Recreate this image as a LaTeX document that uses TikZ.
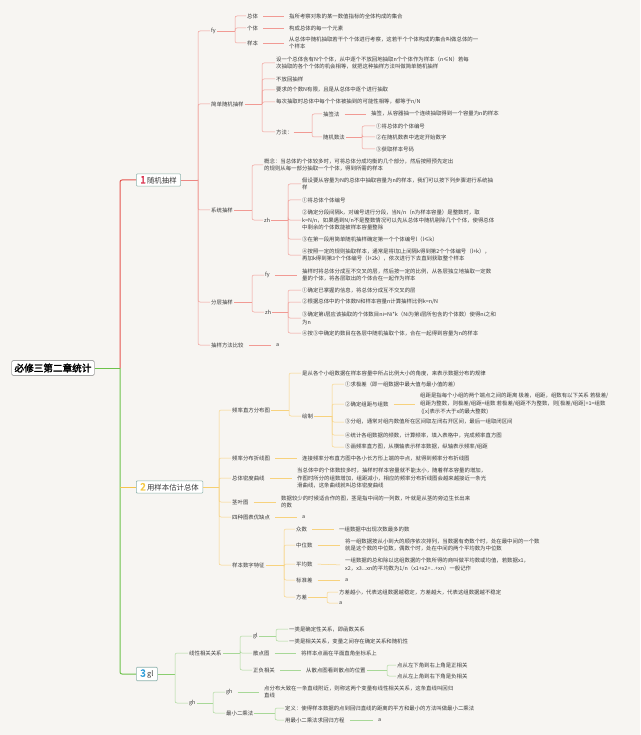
\documentclass[tikz,border=0pt]{standalone}
\usepackage{fontspec}
\setmainfont{Noto Sans CJK SC}[AutoFakeBold=2.5]
\usetikzlibrary{positioning}

\definecolor{bgc}{HTML}{F7F5F2}
\definecolor{txtc}{HTML}{3A3A3A}
\definecolor{redt}{HTML}{E5544E}
\definecolor{redl}{HTML}{F19A94}
\definecolor{yelt}{HTML}{F4C44E}
\definecolor{yell}{HTML}{F7D27E}
\definecolor{grnt}{HTML}{6DC24B}
\definecolor{grnl}{HTML}{A8D898}
\definecolor{hubc}{HTML}{8DB2AC}
\definecolor{numr}{HTML}{D8203F}
\definecolor{numy}{HTML}{F5C842}
\definecolor{numb}{HTML}{2B9BD8}

\tikzset{
  txt/.style={anchor=west, inner sep=1pt, align=left, text=txtc,
    font=\fontsize{5.4}{7.8}\selectfont},
  hub/.style={draw=hubc, fill=white, rounded corners=1pt, inner xsep=4pt, inner ysep=2.2pt,
    line width=0.6pt, text=txtc, font=\fontsize{7.4}{8.5}\selectfont},
  rootbox/.style={draw=gray!70, fill=white, rounded corners=1.5pt, inner sep=3pt,
    line width=0.6pt, font=\fontsize{9.6}{11}\selectfont\bfseries},
  rl/.style={draw=redl, line width=0.5pt, rounded corners=2pt},
  yl/.style={draw=yell, line width=0.5pt, rounded corners=2pt},
  gl/.style={draw=grnl, line width=0.5pt, rounded corners=2pt},
  leaf/.style={shorten <=4pt, shorten >=4pt}
}

\begin{document}
\begin{tikzpicture}[x=1pt,y=-1pt]
  % background
  \fill[bgc] (0,0) rectangle (640,735);
  \useasboundingbox (0,0) rectangle (640,735);

  % root and main topics
  \node[rootbox] (root) at (53,368) {必修三第二章统计};
  \node[hub, anchor=west] (n1) at (136,180) {\textcolor{numr}{\fontsize{10}{9}\selectfont\bfseries 1}\,随机抽样};
  \node[hub, anchor=west] (n2) at (136,487) {\textcolor{numy}{\fontsize{10}{9}\selectfont\bfseries 2}\,用样本估计总体};
  \node[hub, anchor=west] (n3) at (136,674) {\textcolor{numb}{\fontsize{10}{9}\selectfont\bfseries 3}\,gl};

  \coordinate (trunk) at (120,368);
  \draw[grnt, line width=1pt] (root.east) -- (trunk);
  \draw[grnt, line width=1pt, rounded corners=2pt] (trunk) |- (n3.west);
  \draw[redt, line width=1pt, rounded corners=2pt] (trunk) |- (n1.west);
  \draw[yelt, line width=1pt] (n2.west -| trunk) -- (n2.west);

  % ---------- 1 随机抽样 ----------
  \node[txt] (fy) at (210,31) {fy};
  \node[txt] (jd) at (210,104) {简单随机抽样};
  \node[txt] (xt) at (210,210) {系统抽样};
  \node[txt] (fc) at (210,302) {分层抽样};
  \node[txt] (bj) at (210,345) {抽样方法比较};
  \coordinate (b1) at (198,180);
  \draw[redt!70, line width=0.6pt] (n1.east) -- (b1);
  \foreach \c in {fy,jd,xt,fc,bj}
    \draw[rl] (b1) |- (\c.west);

  % fy
  \node[txt] (zt) at (246,16) {总体};
  \node[txt] (gt) at (246,28) {个体};
  \node[txt] (yb) at (246,43) {样本};
  \node[txt] (ztd) at (288,16) {指所考察对象的某一数值指标的全体构成的集合};
  \node[txt] (gtd) at (288,28) {构成总体的每一个元素};
  \node[txt] (ybd) at (288,43) {从总体中随机抽取若干个个体进行考察，这若干个个体构成的集合叫做总体的一\\个样本};
  \coordinate (b-fy) at (235,31);
  \draw[rl] (fy.east) -- (b-fy);
  \foreach \c in {zt,gt,yb}
    \draw[rl] (b-fy) |- (\c.west);
  \draw[rl, leaf] (zt.east) -- (ztd.west);
  \draw[rl, leaf] (gt.east) -- (gtd.west);
  \draw[rl, leaf] (yb.east) -- (ybd.west);

  % 简单随机抽样
  \node[txt] (jd1) at (275,63) {设一个总体含有N个个体，从中逐个不放回地抽取n个个体作为样本（n≤N）若每\\次抽取的各个个体的机会相等，就把这种抽样方法叫做简单随机抽样};
  \node[txt] (jd2) at (275,79) {不放回抽样};
  \node[txt] (jd3) at (275,90) {要求的个数N有限，且是从总体中逐个进行抽取};
  \node[txt] (jd4) at (275,102) {每次抽取时总体中每个个体被抽到的可能性相等，都等于n/N};
  \node[txt] (ff) at (275,132) {方法：};
  \coordinate (b-jd) at (262,104);
  \draw[rl] (jd.east) -- (b-jd);
  \foreach \c in {jd1,jd2,jd3,jd4,ff}
    \draw[rl] (b-jd) |- (\c.west);

  \node[txt] (cq) at (322,114) {抽签法};
  \node[txt] (sj) at (322,137) {随机数法};
  \node[txt] (cqd) at (370,114) {抽签，从容器抽一个连续抽取得到一个容量为n的样本};
  \coordinate (b-ff) at (312,132);
  \draw[rl] (ff.east) -- (b-ff);
  \foreach \c in {cq,sj}
    \draw[rl] (b-ff) |- (\c.west);
  \draw[rl, leaf] (cq.east) -- (cqd.west);

  \node[txt] (sj1) at (375,126) {①将总体的个体编号};
  \node[txt] (sj2) at (375,137) {②在随机数表中选定开始数字};
  \node[txt] (sj3) at (375,149) {③获取样本号码};
  \coordinate (b-sj) at (362,137);
  \draw[rl] (sj.east) -- (b-sj);
  \foreach \c in {sj1,sj2,sj3}
    \draw[rl] (b-sj) |- (\c.west);

  % 系统抽样
  \node[txt] (xt1) at (263,165) {概念：当总体的个体较多时，可将总体分成均衡的几个部分，然后按照预先定出\\的规则从每一部分抽取一个个体，得到所需的样本};
  \node[txt] (xzh) at (263,220) {zh};
  \coordinate (b-xt) at (252,210);
  \draw[rl] (xt.east) -- (b-xt);
  \foreach \c in {xt1,xzh}
    \draw[rl] (b-xt) |- (\c.west);

  \node[txt] (xa) at (301,184) {假设要从容量为N的总体中抽取容量为n的样本，我们可以按下列步骤进行系统抽\\样};
  \node[txt] (xb) at (301,200) {①将总体个体编号};
  \node[txt] (xc) at (301,220) {②确定分段间隔k，对编号进行分段，当N/n（n为样本容量）是整数时，取\\k=N/n，如果遇到N/n不是整数情况可以先从总体中随机剔除几个个体，使得总体\\中剩余的个体数能被样本容量整除};
  \node[txt] (xd) at (301,239) {③在第一段用简单随机抽样确定第一个个体编号l（l≤k）};
  \node[txt] (xe) at (301,255) {④按照一定的规则抽取样本，通常是将l加上间隔k得到第2个个体编号（l+k），\\再加k得到第3个个体编号（l+2k），依次进行下去直到获取整个样本};
  \coordinate (b-xzh) at (288,220);
  \draw[rl] (xzh.east) -- (b-xzh);
  \foreach \c in {xa,xb,xc,xd,xe}
    \draw[rl] (b-xzh) |- (\c.west);

  % 分层抽样
  \node[txt] (ffy) at (264,275) {fy};
  \node[txt] (fzh) at (264,312) {zh};
  \node[txt] (ffyd) at (301,275) {抽样时将总体分成互不交叉的层，然后按一定的比例，从各层独立地抽取一定数\\量的个体，将各层取出的个体合在一起作为样本};
  \coordinate (b-fc) at (252,302);
  \draw[rl] (fc.east) -- (b-fc);
  \foreach \c in {ffy,fzh}
    \draw[rl] (b-fc) |- (\c.west);
  \draw[rl, leaf] (ffy.east) -- (ffyd.west);

  \node[txt] (fa) at (301,290) {①确定已掌握的信息，将总体分成互不交叉的层};
  \node[txt] (fb) at (301,302) {②根据总体中的个体数N和样本容量n计算抽样比例k=n/N};
  \node[txt] (fcc) at (301,318) {③确定第i层应该抽取的个体数目ni=Ni*k（Ni为第i层所包含的个体数）使得ni之和\\为n};
  \node[txt] (fd) at (301,333) {④按③中确定的数目在各层中随机抽取个体，合在一起得到容量为n的样本};
  \coordinate (b-fzh) at (288,312);
  \draw[rl] (fzh.east) -- (b-fzh);
  \foreach \c in {fa,fb,fcc,fd}
    \draw[rl] (b-fzh) |- (\c.west);

  % 抽样方法比较
  \node[txt] (bjd) at (275,345) {a};
  \draw[rl, leaf] (bj.east) -- (bjd.west);

  % ---------- 2 用样本估计总体 ----------
  \node[txt] (zf) at (231,410) {频率直方分布图};
  \node[txt] (zx) at (231,458) {频率分布折线图};
  \node[txt] (md) at (231,478) {总体密度曲线};
  \node[txt] (jy) at (231,502) {茎叶图};
  \node[txt] (yq) at (231,517) {四种图表优缺点};
  \node[txt] (tz) at (231,565) {样本数字特征};
  \coordinate (b2) at (219,487);
  \draw[yelt!80, line width=0.6pt] (n2.east) -- (b2);
  \foreach \c in {zf,zx,md,jy,yq,tz}
    \draw[yl] (b2) |- (\c.west);

  % 频率直方分布图
  \node[txt] (zf1) at (301,373) {是从各个小组数据在样本容量中所占比例大小的角度，来表示数据分布的规律};
  \node[txt] (hz) at (301,416) {绘制};
  \coordinate (b-zf) at (289,410);
  \draw[yl] (zf.east) -- (b-zf);
  \foreach \c in {zf1,hz}
    \draw[yl] (b-zf) |- (\c.west);

  \node[txt] (hz1) at (344,384) {①求极差（即一组数据中最大值与最小值的差）};
  \node[txt] (hz2) at (344,404) {②确定组距与组数};
  \node[txt] (hz3) at (344,422) {③分组，通常对组内数值所在区间取左闭右开区间，最后一组取闭区间};
  \node[txt] (hz4) at (344,435) {④统计各组数据的频数，计算频率，填入表格中，完成频率直方图};
  \node[txt] (hz5) at (344,447) {⑤画频率直方图，从横轴表示样本数据，纵轴表示频率/组距};
  \node[txt] (hz2d) at (419,404) {组距是指每个小组的两个端点之间的距离 极差，组距，组数有以下关系 若极差/\\组距为整数，则极差/组距=组数 若极差/组距不为整数，则[极差/组距]+1=组数\\\ ([x]表示不大于x的最大整数)};
  \coordinate (b-hz) at (332,416);
  \draw[yl] (hz.east) -- (b-hz);
  \foreach \c in {hz1,hz2,hz3,hz4,hz5}
    \draw[yl] (b-hz) |- (\c.west);
  \draw[yl, leaf] (hz2.east) -- (hz2d.west);

  % 折线图, 密度曲线, 茎叶图, 优缺点
  \node[txt] (zxd) at (301,458) {连接频率分布直方图中各小长方形上端的中点，就得到频率分布折线图};
  \node[txt] (mdd) at (296,478) {当总体中的个体数较多时，抽样时样本容量就不能太小，随着样本容量的增加，\\作图时所分的组数增加，组距减小，相应的频率分布折线图会越来越接近一条光\\滑曲线，这条曲线就叫总体密度曲线};
  \node[txt] (jyd) at (280,502) {数据较少的时候适合作的图，茎是指中间的一列数，叶就是从茎的旁边生长出来\\的数};
  \node[txt] (yqd) at (301,517) {a};
  \draw[yl, leaf] (zx.east) -- (zxd.west);
  \draw[yl, leaf] (md.east) -- (mdd.west);
  \draw[yl, leaf] (jy.east) -- (jyd.west);
  \draw[yl, leaf] (yq.east) -- (yqd.west);

  % 样本数字特征
  \node[txt] (zs) at (295,529) {众数};
  \node[txt] (zw) at (295,545) {中位数};
  \node[txt] (pj) at (295,564) {平均数};
  \node[txt] (bzc) at (295,580) {标准差};
  \node[txt] (fch) at (295,597) {方差};
  \coordinate (b-tz) at (284,565);
  \draw[yl] (tz.east) -- (b-tz);
  \foreach \c in {zs,zw,pj,bzc,fch}
    \draw[yl] (b-tz) |- (\c.west);

  \node[txt] (zsd) at (338,529) {一组数据中出现次数最多的数};
  \node[txt] (zwd) at (344,545) {将一组数据按从小到大的顺序依次排列，当数据有奇数个时，处在最中间的一个数\\就是这个数的中位数，偶数个时，处在中间的两个平均数为中位数};
  \node[txt] (pjd) at (344,565) {一组数据的总和除以这组数据的个数所得的商叫做平均数或均值，若数据x1，\\x2，x3...xn的平均数为1/n（x1+x2+...+xn）一般记作};
  \node[txt] (bzd) at (344,580) {a};
  \draw[yl, leaf] (zs.east) -- (zsd.west);
  \draw[yl, leaf] (zw.east) -- (zwd.west);
  \draw[yl, leaf] (pj.east) -- (pjd.west);
  \draw[yl, leaf] (bzc.east) -- (bzd.west);

  \node[txt] (fc1) at (338,592) {方差越小，代表这组数据越稳定，方差越大，代表这组数据越不稳定};
  \node[txt] (fc2) at (338,603) {a};
  \coordinate (b-fch) at (327,597);
  \draw[yl] (fch.east) -- (b-fch);
  \foreach \c in {fc1,fc2}
    \draw[yl] (b-fch) |- (\c.west);

  % ---------- 3 gl ----------
  \node[txt] (xg) at (188,653) {线性相关关系};
  \node[txt] (gh) at (188,703) {gh};
  \coordinate (b3) at (175,674);
  \draw[grnt!80, line width=0.6pt] (n3.east) -- (b3);
  \foreach \c in {xg,gh}
    \draw[gl] (b3) |- (\c.west);

  % 线性相关关系
  \node[txt] (gx) at (252,636) {gl};
  \node[txt] (sd) at (252,653) {散点图};
  \node[txt] (zfx) at (252,670) {正负相关};
  \coordinate (b-xg) at (240,653);
  \draw[gl] (xg.east) -- (b-xg);
  \foreach \c in {gx,sd,zfx}
    \draw[gl] (b-xg) |- (\c.west);

  \node[txt] (gx1) at (288,629) {一类是确定性关系，即函数关系};
  \node[txt] (gx2) at (288,641) {一类是相关关系，变量之间存在确定关系和随机性};
  \coordinate (b-gx) at (276,636);
  \draw[gl] (gx.east) -- (b-gx);
  \foreach \c in {gx1,gx2}
    \draw[gl] (b-gx) |- (\c.west);

  \node[txt] (sdd) at (300,653) {将样本点画在平面直角坐标系上};
  \draw[gl, leaf] (sd.east) -- (sdd.west);

  \node[txt] (zfxd) at (305,670) {从散点图看到散点的位置};
  \draw[gl, leaf] (zfx.east) -- (zfxd.west);
  \node[txt] (zfx1) at (396,665) {点从左下角到右上角是正相关};
  \node[txt] (zfx2) at (396,676) {点从左上角到右下角是负相关};
  \coordinate (b-zfx) at (387,670);
  \draw[gl] (zfxd.east) -- (b-zfx);
  \foreach \c in {zfx1,zfx2}
    \draw[gl] (b-zfx) |- (\c.west);

  % gh
  \node[txt] (gh1) at (225,692) {gh};
  \node[txt] (ec) at (225,713) {最小二乘法};
  \coordinate (b-gh) at (213,703);
  \draw[gl] (gh.east) -- (b-gh);
  \foreach \c in {gh1,ec}
    \draw[gl] (b-gh) |- (\c.west);

  \node[txt] (gh1d) at (263,692) {点分布大致在一条直线附近，则称这两个变量有线性相关关系，这条直线叫回归\\直线};
  \draw[gl, leaf] (gh1.east) -- (gh1d.west);

  \node[txt] (ec1) at (284,708) {定义：使得样本数据的点到回归直线的距离的平方和最小的方法叫做最小二乘法};
  \node[txt] (ec2) at (284,720) {用最小二乘法求回归方程};
  \node[txt] (ec2d) at (377,720) {a};
  \coordinate (b-ec) at (275,713);
  \draw[gl] (ec.east) -- (b-ec);
  \foreach \c in {ec1,ec2}
    \draw[gl] (b-ec) |- (\c.west);
  \draw[gl, leaf] (ec2.east) -- (ec2d.west);
\end{tikzpicture}
\end{document}
